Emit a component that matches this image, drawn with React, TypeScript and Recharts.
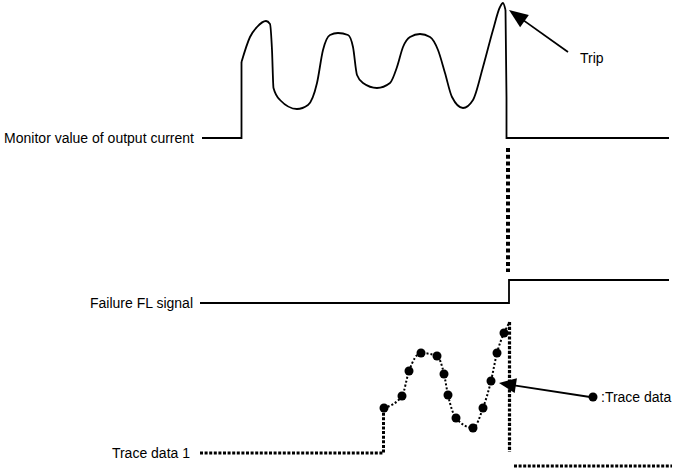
import React from 'react';
import { ComposedChart, Line, Scatter, XAxis, YAxis, ReferenceLine, ReferenceDot } from 'recharts';

// lane baselines on the shared vertical scale (diagram units, up is positive)
const MONITOR_BASE = 333;
const FL_BASE = 168;
const FL_HIGH = 23;
const TRACE_BASE = 18;

// Monitor value of output current
const monitorStepTime = [202, 241.5, 241.5];
const monitorStepValue = [0, 0, 76];
const monitorCurveTime = [241.5, 250, 257, 266, 270, 272, 273.5, 280, 297, 308, 317, 323, 330, 338, 348, 353, 357, 363, 377, 390, 397, 403, 410, 420, 430, 438, 445, 452, 463, 473, 483, 493, 500, 503, 505.5];
const monitorCurveValue = [76, 101, 111, 117, 114, 88, 50, 38, 29, 33, 55, 88, 103, 105, 103, 91, 63, 55, 50, 55, 71, 91, 101, 104, 101, 88, 65, 41, 30, 38, 71, 108, 131, 135, 128];
const monitorTripTime = [505.5, 506.5, 506.5, 669];
const monitorTripValue = [128, 40, 0, 0];

// Failure FL signal (0 = off, 1 = on)
const flTime = [200, 509, 509, 669];
const flLevel = [0, 0, 1, 1];

// Trace data 1
const traceLeadTime = [200, 383.5, 383.5];
const traceLeadValue = [0, 0, 45];
const traceTime = [384, 402, 409, 421, 437, 444, 448, 456, 473, 483, 491, 497, 504];
const traceValue = [45, 57, 82, 100, 97, 79, 58, 35, 25, 45, 72, 100, 120];
const traceEndTime = [504, 509.5];
const traceEndValue = [120, 131];
const traceDropTime = [509.5, 509.5];
const traceDropValue = [131, 1];
const traceAfterTime = [514, 672];
const traceAfterValue = [-13, -13];

const TRIP_TIME = 508;

const build = (ts: number[], vs: number[], base: number, scale = 1) =>
  ts.map((t, i) => ({ t, y: base + vs[i] * scale }));

const monitorStep = build(monitorStepTime, monitorStepValue, MONITOR_BASE);
const monitorCurve = build(monitorCurveTime, monitorCurveValue, MONITOR_BASE);
const monitorTrip = build(monitorTripTime, monitorTripValue, MONITOR_BASE);
const flData = build(flTime, flLevel, FL_BASE, FL_HIGH);
const traceLead = build(traceLeadTime, traceLeadValue, TRACE_BASE);
const traceCurve = build(traceTime, traceValue, TRACE_BASE);
const traceEnd = build(traceEndTime, traceEndValue, TRACE_BASE);
const traceDrop = build(traceDropTime, traceDropValue, TRACE_BASE);
const traceAfter = build(traceAfterTime, traceAfterValue, TRACE_BASE);

const FONT = '"Liberation Sans", Arial, sans-serif';

const label = (text: string, anchor: 'start' | 'end') => (p: any) => (
  <text x={p.cx} y={p.cy} textAnchor={anchor} dominantBaseline="central"
    fontFamily={FONT} fontSize={14} fill="#000">{text}</text>
);

// arrowhead pointing from tail to tip (scale is 1 unit per pixel)
const head = (tail: [number, number], tip: [number, number], len: number, w: number) => (p: any) => {
  const ang = Math.atan2(-(tip[1] - tail[1]), tip[0] - tail[0]) * 180 / Math.PI;
  return (
    <polygon points={`0,0 ${-len},${-w / 2} ${-len},${w / 2}`} fill="#000"
      transform={`translate(${p.cx},${p.cy}) rotate(${ang})`} />
  );
};

const tripTail: [number, number] = [568, 419];
const tripTip: [number, number] = [509, 461];
const traceTail: [number, number] = [590, 74];
const traceTip: [number, number] = [499, 88];

const shorten = (tail: [number, number], tip: [number, number], by: number) => {
  const dx = tip[0] - tail[0], dy = tip[1] - tail[1];
  const d = Math.hypot(dx, dy);
  return { x: tip[0] - dx / d * by, y: tip[1] - dy / d * by };
};

const black = '#000';

export default function App() {
  return (
    <div style={{ position: 'absolute', left: 0, top: 0, width: 675, height: 471, background: '#fff' }}>
      <ComposedChart width={675} height={471} margin={{ top: 0, right: 0, bottom: 0, left: 0 }}>
        <XAxis type="number" dataKey="t" domain={[0, 675]} allowDataOverflow hide />
        <YAxis type="number" domain={[0, 471]} allowDataOverflow hide />

        <Line data={monitorStep} dataKey="y" type="linear" stroke={black} strokeWidth={1.8} dot={false} activeDot={false} isAnimationActive={false} />
        <Line data={monitorCurve} dataKey="y" type="monotone" stroke={black} strokeWidth={1.8} dot={false} activeDot={false} isAnimationActive={false} />
        <Line data={monitorTrip} dataKey="y" type="linear" stroke={black} strokeWidth={1.8} dot={false} activeDot={false} isAnimationActive={false} />

        <Line data={flData} dataKey="y" type="linear" stroke={black} strokeWidth={1.8} dot={false} activeDot={false} isAnimationActive={false} />

        <Line data={traceLead} dataKey="y" type="linear" stroke={black} strokeWidth={3} strokeDasharray="3 1.6" dot={false} activeDot={false} isAnimationActive={false} />
        <Line data={traceCurve} dataKey="y" type="monotone" stroke={black} strokeWidth={2} strokeDasharray="2 2" dot={false} activeDot={false} isAnimationActive={false} />
        <Line data={traceEnd} dataKey="y" type="linear" stroke={black} strokeWidth={2} strokeDasharray="2 2" dot={false} activeDot={false} isAnimationActive={false} />
        <Line data={traceDrop} dataKey="y" type="linear" stroke={black} strokeWidth={3.2} strokeDasharray="3.2 1.6" dot={false} activeDot={false} isAnimationActive={false} />
        <Line data={traceAfter} dataKey="y" type="linear" stroke={black} strokeWidth={3} strokeDasharray="3 1.6" dot={false} activeDot={false} isAnimationActive={false} />
        <Scatter data={traceCurve} dataKey="y" isAnimationActive={false}
          shape={(p: any) => <circle cx={p.cx} cy={p.cy} r={4.5} fill={black} />} />

        <ReferenceLine segment={[{ x: TRIP_TIME, y: MONITOR_BASE - 10 }, { x: TRIP_TIME, y: FL_BASE + FL_HIGH + 8 }]}
          stroke={black} strokeWidth={4} strokeDasharray="4 2.7" />

        <ReferenceLine segment={[{ x: tripTail[0], y: tripTail[1] }, shorten(tripTail, tripTip, 14)]} stroke={black} strokeWidth={1.8} />
        <ReferenceDot x={tripTip[0]} y={tripTip[1]} r={0} shape={head(tripTail, tripTip, 19, 15)} />
        <ReferenceLine segment={[{ x: traceTail[0], y: traceTail[1] }, shorten(traceTail, traceTip, 12)]} stroke={black} strokeWidth={1.8} />
        <ReferenceDot x={traceTip[0]} y={traceTip[1]} r={0} shape={head(traceTail, traceTip, 17, 15)} />

        <ReferenceDot x={593} y={74} r={4.5} fill={black} stroke="none" />
        <ReferenceDot x={601} y={74} r={0} shape={label(':Trace data', 'start')} />
        <ReferenceDot x={580} y={413} r={0} shape={label('Trip', 'start')} />
        <ReferenceDot x={194} y={MONITOR_BASE} r={0} shape={label('Monitor value of output current', 'end')} />
        <ReferenceDot x={193} y={FL_BASE} r={0} shape={label('Failure FL signal', 'end')} />
        <ReferenceDot x={190} y={TRACE_BASE} r={0} shape={label('Trace data 1', 'end')} />
      </ComposedChart>
    </div>
  );
}
